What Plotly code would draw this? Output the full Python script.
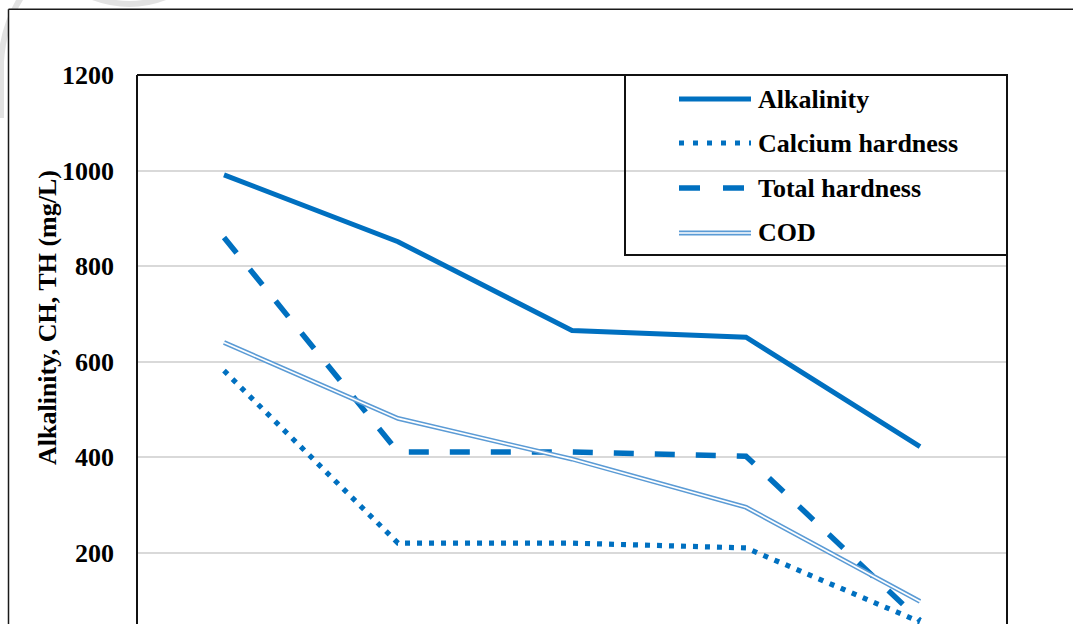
import plotly.graph_objects as go

# Sampling stages along the treatment train
stages = [1, 2, 3, 4, 5]

alkalinity = [991, 851, 665, 651, 422]
calcium_hardness = [581, 220, 220, 210, 55]
total_hardness = [860, 411, 411, 402, 58]
cod = [640, 481, 396, 295, 98]

y_ticks = [200, 400, 600, 800, 1000, 1200]

BLUE = "#0070C0"
LIGHT_BLUE = "#5B9BD5"
FONT = "Liberation Serif"

W, H = 1073, 624
L, R, T, B = 137, 66, 75, 0
PW, PH = W - L - R, H - T - B


def px(x, y):
    """Convert a pixel position on the page into paper coordinates."""
    return (x - L) / PW, (H - B - y) / PH


fig = go.Figure()

fig.add_trace(go.Scatter(x=stages, y=alkalinity, mode="lines", name="Alkalinity",
                         line=dict(color=BLUE, width=5), showlegend=False))
fig.add_trace(go.Scatter(x=stages, y=calcium_hardness, mode="lines", name="Calcium hardness",
                         line=dict(color=BLUE, width=5.2, dash="5px,7px"), showlegend=False))
fig.add_trace(go.Scatter(x=stages, y=total_hardness, mode="lines", name="Total hardness",
                         line=dict(color=BLUE, width=5.5, dash="20px,21px"), showlegend=False))
# COD is a double line: a light-blue stroke with a thin white core
fig.add_trace(go.Scatter(x=stages, y=cod, mode="lines", name="COD",
                         line=dict(color=LIGHT_BLUE, width=4.8), showlegend=False))
fig.add_trace(go.Scatter(x=stages, y=cod, mode="lines", name="COD core",
                         line=dict(color="white", width=1.7), showlegend=False,
                         hoverinfo="skip"))

shapes = []

# faint watermark arcs outside the chart frame
for path_pts in ([(22, -4), (3, 25), (1, 62), (1, 118)],
                 [(90, -4), (130, 12), (168, -4)]):
    p = [px(*pt) for pt in path_pts]
    if len(p) == 4:
        d = (f"M {p[0][0]},{p[0][1]} Q {p[1][0]},{p[1][1]} {p[2][0]},{p[2][1]} "
             f"L {p[3][0]},{p[3][1]}")
    else:
        d = f"M {p[0][0]},{p[0][1]} Q {p[1][0]},{p[1][1]} {p[2][0]},{p[2][1]}"
    shapes.append(dict(type="path", xref="paper", yref="paper", path=d,
                       line=dict(color="#E2E2E2", width=6), layer="below"))

# white chart area covering the watermark
x0, y0 = px(8.5, 9.3)
x1, y1 = px(W + 5, H + 5)
shapes.append(dict(type="rect", xref="paper", yref="paper", x0=x0, y0=y1, x1=x1, y1=y0,
                   fillcolor="white", line=dict(width=0), layer="below"))

# outer chart frame (left and top visible)
shapes.append(dict(type="line", xref="paper", yref="paper", x0=x0, y0=y0, x1=x0, y1=y1,
                   line=dict(color="#1a1a1a", width=1.5)))
shapes.append(dict(type="line", xref="paper", yref="paper", x0=x0, y0=y0, x1=x1, y1=y0,
                   line=dict(color="#1a1a1a", width=1.5)))

# plot area frame
for (a, b, c, d) in [(0, 0, 0, 1), (0, 1, 1, 1), (1, 1, 1, 0)]:
    shapes.append(dict(type="line", xref="paper", yref="paper", x0=a, y0=b, x1=c, y1=d,
                       line=dict(color="#111111", width=2)))

# legend box
lx0, ly0 = px(625, 75)
lx1, ly1 = px(1007, 255)
shapes.append(dict(type="rect", xref="paper", yref="paper", x0=lx0, y0=ly1, x1=lx1, y1=ly0,
                   line=dict(color="#111111", width=2), fillcolor="rgba(0,0,0,0)"))

legend_items = [
    ("Alkalinity", 99, [dict(color=BLUE, width=5)]),
    ("Calcium hardness", 143, [dict(color=BLUE, width=5.2, dash="5px,9px")]),
    ("Total hardness", 188, [dict(color=BLUE, width=5.5, dash="21px,23px")]),
    ("COD", 233, [dict(color=LIGHT_BLUE, width=4.8), dict(color="white", width=1.7)]),
]

annotations = []
for label, yy, styles in legend_items:
    sx0, sy = px(679, yy)
    sx1, _ = px(751, yy)
    for st in styles:
        shapes.append(dict(type="line", xref="paper", yref="paper", x0=sx0, y0=sy, x1=sx1, y1=sy,
                           line=st))
    tx, _ = px(756, yy)
    annotations.append(dict(xref="paper", yref="paper", x=tx, y=sy, text=label,
                            showarrow=False, xanchor="left", yanchor="middle",
                            font=dict(family=FONT, size=26, color="black", weight="bold")))

# y-axis title
ax, ay = px(47, 318)
annotations.append(dict(xref="paper", yref="paper", x=ax, y=ay,
                        text="Alkalinity, CH, TH (mg/L)", textangle=-90, showarrow=False,
                        xanchor="center", yanchor="middle",
                        font=dict(family=FONT, size=26, color="black", weight="bold")))

fig.update_layout(
    width=W, height=H,
    margin=dict(l=L, r=R, t=T, b=B, pad=0),
    paper_bgcolor="white",
    plot_bgcolor="rgba(0,0,0,0)",
    shapes=shapes,
    annotations=annotations,
    showlegend=False,
    xaxis=dict(range=[0.5, 5.5], showgrid=False, zeroline=False, showticklabels=False,
               showline=False, ticks="", fixedrange=True),
    yaxis=dict(range=[50.7, 1200], tickvals=y_ticks, showgrid=True, gridcolor="#D9D9D9",
               gridwidth=1.5, zeroline=False, showline=False, ticks="",
               ticklabelstandoff=22,
               tickfont=dict(family=FONT, size=26, color="black", weight="bold"),
               fixedrange=True),
)

fig.write_html("out.html")
